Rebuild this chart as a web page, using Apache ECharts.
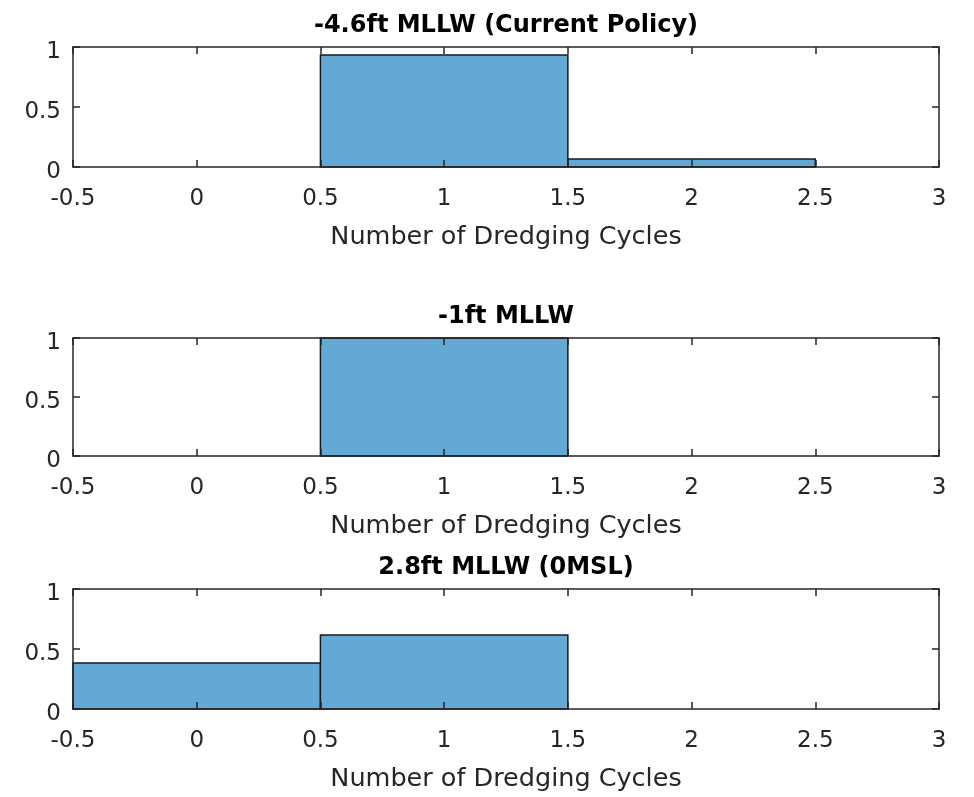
<!DOCTYPE html>
<html>
<head>
<meta charset="utf-8">
<script src="https://cdn.jsdelivr.net/npm/echarts@6/dist/echarts.min.js"></script>
<style>
  html, body { margin: 0; padding: 0; background: #ffffff; }
  #chart { width: 974px; height: 797px; }
</style>
</head>
<body>
<div id="chart"></div>
<script>
// Histogram bins: number of dredging cycles (bin centres, width 1)
const cycles = [0, 1, 2];
const binWidth = 1;

// Panel titles (one per channel depth scenario)
const panelTitles = ['-4.6ft MLLW (Current Policy)', '-1ft MLLW', '2.8ft MLLW (0MSL)'];

// Normalised counts per bin, one array per scenario
const shareCurrentPolicy = [0, 0.933, 0.067];
const shareMinus1ft = [0, 1, 0];
const share0MSL = [0.383, 0.617, 0];

// Axis ticks
const xTickMin = -0.5;
const xTickMax = 3;
const xTickStep = 0.5;
const yTickMin = 0;
const yTickMax = 1;
const yTickStep = 0.5;

const xLabelText = 'Number of Dredging Cycles';

const panels = [shareCurrentPolicy, shareMinus1ft, share0MSL];

const FONT = '"DejaVu Sans", "Liberation Sans", Arial, sans-serif';
const AXIS_COLOR = '#262626';
const BAR_FILL = '#64a9d6';
const BAR_EDGE = '#1a1a1a';

const gridBoxes = [
  { top: 47, height: 120 },
  { top: 338, height: 118 },
  { top: 589, height: 120 }
];
const gridLeft = 73;
const gridWidth = 866;

const grid = [];
const xAxis = [];
const yAxis = [];
const series = [];
const title = [];

panels.forEach((values, i) => {
  const box = gridBoxes[i];
  grid.push({ left: gridLeft, top: box.top, width: gridWidth, height: box.height, containLabel: false });

  title.push({
    text: panelTitles[i],
    left: gridLeft + gridWidth / 2,
    top: box.top - 33,
    textAlign: 'center',
    padding: 0,
    textStyle: { fontFamily: FONT, fontSize: 24, fontWeight: 'bold', color: '#000000' }
  });

  const baseX = {
    type: 'value', gridIndex: i, min: xTickMin, max: xTickMax, interval: xTickStep,
    z: 5,
    splitLine: { show: false },
    axisLine: { show: true, onZero: false, lineStyle: { color: AXIS_COLOR, width: 1.5 } },
    axisTick: { show: true, inside: true, length: 7, lineStyle: { color: AXIS_COLOR, width: 1.5 } }
  };
  xAxis.push(Object.assign({}, baseX, {
    position: 'bottom',
    axisLabel: { show: true, margin: 21, fontFamily: FONT, fontSize: 23, color: AXIS_COLOR },
    name: xLabelText,
    nameLocation: 'middle',
    nameGap: 57,
    nameTextStyle: { fontFamily: FONT, fontSize: 25.5, color: AXIS_COLOR }
  }));
  xAxis.push(Object.assign({}, baseX, { position: 'top', axisLabel: { show: false } }));

  const baseY = {
    type: 'value', gridIndex: i, min: yTickMin, max: yTickMax, interval: yTickStep,
    z: 5,
    splitLine: { show: false },
    axisLine: { show: true, onZero: false, lineStyle: { color: AXIS_COLOR, width: 1.5 } },
    axisTick: { show: true, inside: true, length: 7, lineStyle: { color: AXIS_COLOR, width: 1.5 } }
  };
  yAxis.push(Object.assign({}, baseY, {
    position: 'left',
    axisLabel: {
      show: true, margin: 12, fontFamily: FONT, fontSize: 23, color: AXIS_COLOR,
      verticalAlign: 'top', lineHeight: 10
    }
  }));
  yAxis.push(Object.assign({}, baseY, { position: 'right', axisLabel: { show: false } }));

  const data = cycles
    .map((c, k) => [c - binWidth / 2, c + binWidth / 2, values[k]])
    .filter(d => d[2] > 0);

  series.push({
    type: 'custom',
    xAxisIndex: i * 2,
    yAxisIndex: i * 2,
    z: 1,
    silent: true,
    data: data,
    renderItem: function (params, api) {
      const topLeft = api.coord([api.value(0), api.value(2)]);
      const bottomRight = api.coord([api.value(1), 0]);
      return {
        type: 'rect',
        shape: {
          x: topLeft[0],
          y: topLeft[1],
          width: bottomRight[0] - topLeft[0],
          height: bottomRight[1] - topLeft[1]
        },
        style: { fill: BAR_FILL, stroke: BAR_EDGE, lineWidth: 1.5 }
      };
    }
  });
});

const chart = echarts.init(document.getElementById('chart'));
chart.setOption({
  backgroundColor: '#ffffff',
  animation: false,
  title: title,
  grid: grid,
  xAxis: xAxis,
  yAxis: yAxis,
  series: series
});
</script>
</body>
</html>
